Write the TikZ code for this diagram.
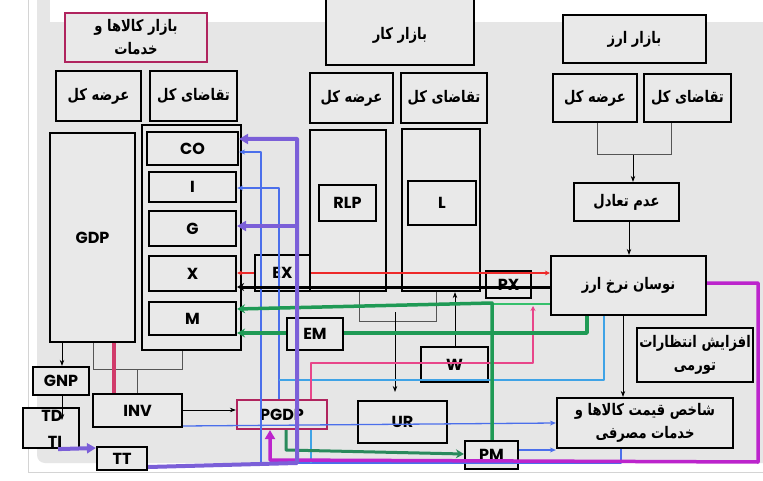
\documentclass[tikz,border=0pt]{standalone}
\usepackage{fontspec}
\setmainfont{Poppins}
\newfontfamily\fa[Script=Arabic]{DejaVu Sans}
\TeXXeTstate=1
\usetikzlibrary{arrows.meta}
\definecolor{panel}{HTML}{E6E6E6}
\definecolor{boxgray}{HTML}{E9E9E9}
\definecolor{faint}{HTML}{D4D4D4}
\definecolor{purp}{HTML}{7B5FD8}
\definecolor{blu}{HTML}{4B6FEB}
\definecolor{lblu}{HTML}{3FA3E6}
\definecolor{redl}{HTML}{EE2A2A}
\definecolor{grn}{HTML}{1F9A55}
\definecolor{dgrn}{HTML}{2A8A5C}
\definecolor{lgrn}{HTML}{35C06C}
\definecolor{mag}{HTML}{BC24CC}
\definecolor{pnk}{HTML}{E8468A}
\definecolor{crim}{HTML}{D13B6B}
\definecolor{bord}{HTML}{B0245E}
\definecolor{gline}{HTML}{555555}
\newcommand\BX[7]{\node[#1, minimum width={(#5-#3)*1pt}, minimum height={(#6-#4)*1pt}] (#2) at ({(#3+#5)/2},{(#4+#6)/2}) {#7};}
\newcommand\FA[1]{\scalebox{0.82}[1]{\beginR #1\endR}}
\tikzset{
  bx/.style={draw=black, line width=2.2pt, fill=boxgray, inner sep=0pt},
  lab/.style={font=\fontsize{16}{18}\selectfont\bfseries},
  far/.style={font=\fa\bfseries\fontsize{16}{23}\selectfont, align=center},
  gl/.style={draw=gline, line width=1pt},
  arr/.style={draw=black, line width=0.8pt, -{Stealth[length=6pt,width=4.5pt]}},
  purpline/.style={draw=purp, line width=4pt, line join=round},
  ptip/.style={-{Triangle[length=9pt,width=10pt]}},
  bl/.style={draw=blu, line width=1.3pt, line join=round},
  btip/.style={-{Stealth[length=6pt,width=5pt]}},
  lbl/.style={draw=lblu, line width=1.3pt, line join=round},
  pk/.style={draw=pnk, line width=1.2pt, line join=round},
  rd/.style={draw=redl, line width=1.6pt},
  blk/.style={draw=black, line width=3pt},
  gr/.style={draw=grn, line width=3.5pt, line join=round},
  lgr/.style={draw=lgrn, line width=1.5pt},
  dgr/.style={draw=dgrn, line width=3pt, line join=round},
  mg/.style={draw=mag, line width=3.5pt, line join=round},
  crimline/.style={draw=crim, line width=4pt},
}
\begin{document}
\begin{tikzpicture}[x=1pt,y=-1pt]
\useasboundingbox (0,0) rectangle (763,481);
\fill[white] (0,0) rectangle (763,481);
\draw[faint, line width=1pt] (28,0) -- (28,472) -- (763,472);
\fill[panel, rounded corners=8pt] (37,-10) rectangle (775,463);
\fill[white] (50,-1) rectangle (764,22);

% goods market
\BX{bx,draw=bord}{goods}{65}{13}{207}{62}{}
\node[far] at (goods.center) {\FA{بازار کالاها و}\\\FA{خدمات}};
\BX{bx}{gs}{56}{71}{141}{121}{}
\node[far] at (gs.center) {\FA{عرضه کل}};
\BX{bx}{gd}{150}{71}{237}{121}{}
\node[far] at (gd.center) {\FA{تقاضای کل}};
\BX{bx}{gdp}{50}{133}{135}{342}{}
\node[lab] at (gdp.center) {GDP};
\BX{bx}{dem}{142}{125}{241}{350}{}
\BX{bx,lab}{co}{147}{132}{238}{165}{CO}
\BX{bx,lab}{ni}{149}{172}{236}{202}{I}
\BX{bx,lab}{ng}{149}{211}{236}{246}{G}
\BX{bx,lab}{nx}{149}{256}{236}{291}{X}
\BX{bx,lab}{nm}{149}{302}{236}{335}{M}

% labour market
\BX{bx}{labor}{326}{-10}{474}{65}{}
\node[far] at (400,35) {\FA{بازار کار}};
\BX{bx}{ls}{310}{73}{393}{123}{}
\node[far] at (ls.center) {\FA{عرضه کل}};
\BX{bx}{ld}{401}{73}{487}{123}{}
\node[far] at (ld.center) {\FA{تقاضای کل}};
\BX{bx}{lsbig}{310}{130}{386}{291}{}
\BX{bx,lab}{rlp}{319}{185}{376}{221}{RLP}
\BX{bx}{ldbig}{402}{129}{480}{291}{}
\BX{bx,lab}{nl}{408}{181}{476}{225}{L}

% currency market
\BX{bx}{fx}{563}{15}{706}{63}{}
\node[far] at (fx.center) {\FA{بازار ارز}};
\BX{bx}{fs}{553}{74}{637}{122}{}
\node[far] at (fs.center) {\FA{عرضه کل}};
\BX{bx}{fd}{644}{74}{731}{122}{}
\node[far] at (fd.center) {\FA{تقاضای کل}};
\BX{bx}{imb}{574}{183}{679}{221}{}
\node[far] at (imb.center) {\FA{عدم تعادل}};
\BX{bx}{nov}{551}{256}{706}{315}{}
\node[far] at (nov.center) {\FA{نوسان نرخ ارز}};
\BX{bx}{inf}{637}{328}{753}{382}{}
\node[far] at (inf.center) {\FA{افزایش انتظارات}\\\FA{تورمی}};
\BX{bx}{cpi}{557}{398}{733}{448}{}
\node[far] at (cpi.center) {\FA{شاخص قیمت کالاها و}\\\FA{خدمات مصرفی}};

% small boxes
\BX{bx,lab}{ex}{255}{255}{310}{291}{EX}
\BX{bx,lab}{px}{486}{271}{531}{298}{PX}
\BX{bx,lab}{em}{287}{318}{343}{350}{EM}
\BX{bx,lab}{w}{421}{347}{488}{382}{W}
\BX{bx,lab}{ur}{358}{401}{447}{443}{UR}
\BX{bx,lab}{pm}{465}{441}{518}{469}{PM}
\BX{bx,lab,draw=bord}{pgdp}{237}{400}{327}{429}{PGDP}
\BX{bx,lab}{inv}{93}{394}{182}{427}{INV}
\BX{bx,lab}{gnp}{33}{367}{89}{395}{GNP}
\BX{bx}{tdti}{23}{408}{79}{448}{}
\node[lab] (td) at (52,416) {TD};
\node[lab] (ti) at (55,442) {TI};
\BX{bx,lab}{tt}{97}{447}{147}{470}{TT}

% black / gray connectors
\draw[gl] (93,0 |- gdp.south) -- (93,369) -- (182,369) -- (182,0 |- dem.south);
\draw[gl] (137,369) -- (inv.north -| 137,0);
\draw[crimline] (114,0 |- gdp.south) -- (inv.north -| 114,0);
\draw[arr] (62,0 |- gdp.south) -- (gnp.north -| 62,0);
\coordinate (tdtip) at (62,420);
\draw[arr] (62,0 |- gnp.south) -- (tdtip);
\draw[arr] (inv.east |- 0,410) -- (pgdp.west |- 0,410);
\draw[gl] (359,0 |- lsbig.south) -- (359,321) -- (436,321) -- (436,0 |- ldbig.south);
\coordinate (urtip) at (395,392);
\draw[arr] (395,312) -- (urtip);
\draw[arr] (455,0 |- w.north) -- (455,0 |- ldbig.south);
\draw[gl] (597,0 |- fs.south) -- (597,155) -- (671,155) -- (671,0 |- fd.south);
\draw[arr] (633,155) -- (imb.north -| 633,0);
\draw[arr] (629,0 |- imb.south) -- (nov.north -| 629,0);
\draw[arr] (623,0 |- nov.south) -- (cpi.north -| 623,0);

% blue family
\draw[bl,btip] (621,0 |- cpi.south) -- (621,463) -- (261,463) -- (261,152) -- (co.east |- 0,152);
\draw[lbl] (311,0 |- pgdp.south) -- (311,463);
\draw[bl,btip] (279,0 |- pgdp.north) -- (279,188) -- (ni.east |- 0,188);
\draw[lbl] (604,0 |- nov.south) -- (604,380) -- (279,380);
\draw[bl,btip] (inv.east |- 0,426) -- (cpi.west |- 0,423);
\draw[bl,btip] (pm.east |- 0,450) -- (cpi.west |- 0,450);
\draw[pk,-{Stealth[length=5pt,width=5pt]}] (311,0 |- pgdp.north) -- (311,363) -- (533,363) -- (533,306);

% red / black / green
\draw[rd,-{Stealth[length=5pt,width=5pt]}] (ex.east |- 0,273) -- (nov.west |- 0,273);
\draw[rd,-{Stealth[length=5pt,width=5pt]}] (ex.west |- 0,273) -- (nx.east |- 0,273);
\draw[blk,-{Stealth[length=7pt,width=8pt]}] (nov.west |- 0,287) -- (nx.east |- 0,287);
\draw[lgr] (nov.west |- 0,304) -- (492,304);
\draw[gr,-{Stealth[length=8pt,width=9pt]}] (492,0 |- pm.north) -- (492,303) -- (nm.east |- 0,309);
\draw[gr] (587,0 |- nov.south) -- (587,333) -- (em.east |- 0,333);
\draw[gr,-{Stealth[length=8pt,width=9pt]}] (em.west |- 0,333) -- (nm.east |- 0,333);
\draw[dgr,-{Stealth[length=8pt,width=9pt]}] (286,0 |- pgdp.south) -- (286,450) -- (pm.west |- 0,454);
\draw[mg,-{Triangle[length=9pt,width=10pt]}] (nov.east |- 0,283) -- (758,283) -- (758,462) -- (270,460) -- (270,0 |- pgdp.south);

% purple
\draw[purpline,ptip] (58,0 |- tdti.south) -- (tt.west |- 0,448);
\draw[purpline,ptip] (tt.east |- 0,467) -- (297,463) -- (297,139) -- (co.east |- 0,139);
\draw[purpline,ptip] (297,226) -- (ng.east |- 0,226);
\end{tikzpicture}
\end{document}
